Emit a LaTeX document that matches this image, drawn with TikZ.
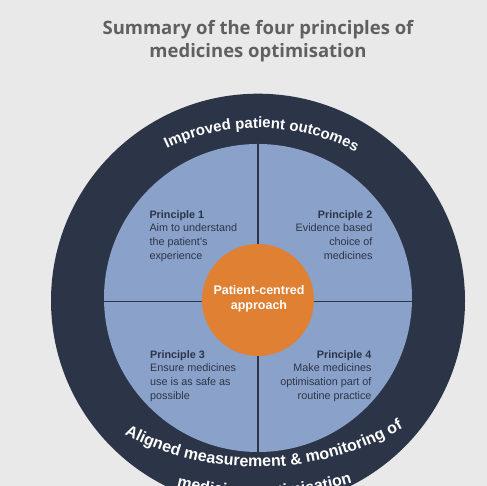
\documentclass[tikz,border=0pt]{standalone}
\usepackage{fontspec}
\setmainfont{Liberation Sans}
\newfontfamily\opensans{Open Sans}
\usetikzlibrary{decorations.text}
\definecolor{bgc}{HTML}{E9E9E9}
\definecolor{navy}{HTML}{2C3448}
\definecolor{qblue}{HTML}{8AA1C9}
\definecolor{orng}{HTML}{E08032}
\definecolor{titlegray}{HTML}{606060}
\begin{document}
\begin{tikzpicture}[x=1pt,y=1pt,
  ptext/.style={font=\fontsize{10.8}{13.6}\selectfont, text=navy, inner sep=0pt},
  titletext/.style={font=\opensans\bfseries\fontsize{18.5}{23}\selectfont, text=titlegray, inner sep=0pt, align=center},
  centretext/.style={font=\bfseries\fontsize{12.5}{14.3}\selectfont, text=white, inner sep=0pt, align=center},
  divider/.style={navy, line width=1.2pt}]
\useasboundingbox (0,0) rectangle (487,486);
\fill[bgc] (0,0) rectangle (487,486);
\begin{scope}
  \clip (0,0) rectangle (487,486);
  \node[circle, fill=navy, minimum size=414pt, inner sep=0pt] (outer) at (258,185.3) {};
  \node[circle, fill=qblue, minimum size=308pt, inner sep=0pt] (inner) at (258,188) {};
  \begin{scope}
    \clip (258,188) circle[radius=154pt];
    \draw[divider] (90,184.5) -- (430,184.5);
    \draw[divider] (258,20) -- (258,360);
  \end{scope}
  \node[circle, fill=orng, minimum size=112pt, inner sep=0pt] (pc) at (258,186) {};
  \node[centretext, anchor=base] (pctext) at (259,176.7) {Patient-centred\\approach};
  % curved texts
  \path[decorate, decoration={text along path, text align=center,
      text={|\bfseries\fontsize{15}{18}\selectfont\color{white}|Improved patient outcomes}}]
    ([shift={(149:212pt)}]258,146) arc[start angle=149, end angle=29, radius=212pt];
  \path[decorate, decoration={text along path, text align=center,
      text={|\bfseries\fontsize{16}{18}\selectfont\color{white}|Aligned measurement {\&} monitoring of}}]
    ([shift={(231.3:288pt)}]258,307) arc[start angle=231.3, end angle=311.3, radius=288pt];
  \path[decorate, decoration={text along path, text align=center,
      text={|\bfseries\fontsize{16}{18}\selectfont\color{white}|medicines optimisation}}]
    ([shift={(236.2:318pt)}]258,307) arc[start angle=236.2, end angle=306.2, radius=318pt];
\end{scope}
\node[titletext, anchor=base] (title) at (258,428.7) {Summary of the four principles of\\medicines optimisation};
\node[ptext, anchor=base west, align=left] (p1) at (149.3,226.9) {\textbf{Principle 1}\\Aim to understand\\the patient's\\experience};
\node[ptext, anchor=base east, align=right] (p2) at (372.7,226.9) {\textbf{Principle 2}\\Evidence based\\choice of\\medicines};
\node[ptext, anchor=base west, align=left] (p3) at (150,86.9) {\textbf{Principle 3}\\Ensure medicines\\use is as safe as\\possible};
\node[ptext, anchor=base east, align=right] (p4) at (371.7,86.9) {\textbf{Principle 4}\\Make medicines\\optimisation part of\\routine practice};
\end{tikzpicture}
\end{document}
